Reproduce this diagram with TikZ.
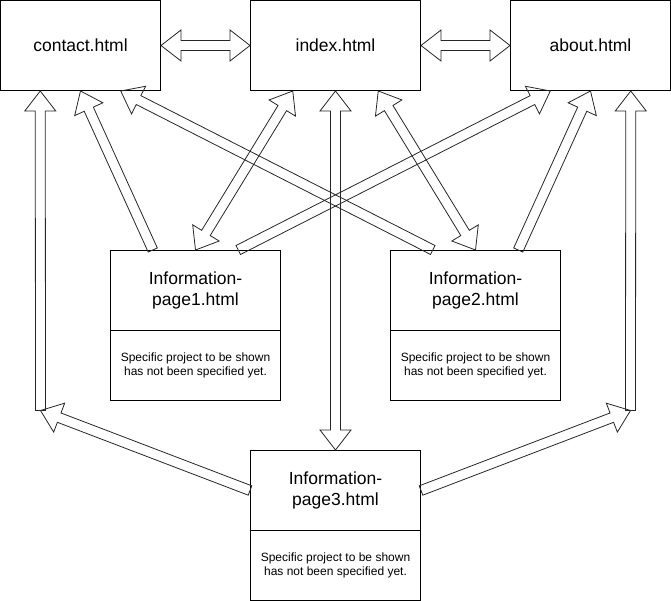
\documentclass[tikz,border=0pt]{standalone}
\usepackage{fontspec}
\setmainfont{Liberation Sans}
\usetikzlibrary{calc}
\newcommand{\flexOne}[2]{%
  \coordinate (fxh) at ($(#2)!20pt!(#1)$);
  \draw[flex] ($(#1)!5pt!90:(#2)$) -- ($(fxh)!5pt!90:(#2)$) -- ($(fxh)!15.5pt!90:(#2)$) -- (#2) -- ($(fxh)!15.5pt!-90:(#2)$) -- ($(fxh)!5pt!-90:(#2)$) -- ($(#1)!5pt!-90:(#2)$) -- cycle;}
\newcommand{\flexTwo}[2]{%
  \coordinate (fxa) at ($(#1)!20pt!(#2)$);
  \coordinate (fxb) at ($(#2)!20pt!(#1)$);
  \draw[flex] (#1) -- ($(fxa)!15.5pt!90:(#2)$) -- ($(fxa)!5pt!90:(#2)$) -- ($(fxb)!5pt!90:(#2)$) -- ($(fxb)!15.5pt!90:(#2)$) -- (#2) -- ($(fxb)!15.5pt!-90:(#2)$) -- ($(fxb)!5pt!-90:(#2)$) -- ($(fxa)!5pt!-90:(#2)$) -- ($(fxa)!15.5pt!-90:(#2)$) -- cycle;}
\begin{document}
\begin{tikzpicture}[x=1pt,y=-1pt,
  page/.style={draw=black, line width=1pt, inner sep=0pt, minimum height=90pt, align=center, font=\fontsize{17.5}{21.5}\selectfont},
  head/.style={draw=black, line width=1pt, inner sep=0pt, minimum width=170pt, minimum height=80pt, align=center, font=\fontsize{17.5}{21.5}\selectfont},
  body/.style={draw=black, line width=1pt, inner sep=0pt, minimum width=170pt, minimum height=70pt, align=center, font=\fontsize{12}{14}\selectfont},
  flex/.style={draw=black!85, line width=0.8pt, line join=miter}]
\useasboundingbox (-0.5,-0.5) rectangle (670.5,600.5);
% top pages
\node[page, minimum width=160pt] (contact) at (80,45) {contact.html};
\node[page, minimum width=170pt] (index) at (335,45) {index.html};
\node[page, minimum width=160pt] (about) at (590,45) {about.html};
% information pages
\node[head] (h1) at (195,290) {Information-\\page1.html};
\node[body] (b1) at (195,365) {Specific project to be shown\\has not been specified yet.};
\node[head] (h2) at (475,290) {Information-\\page2.html};
\node[body] (b2) at (475,365) {Specific project to be shown\\has not been specified yet.};
\node[head] (h3) at (335,490) {Information-\\page3.html};
\node[body] (b3) at (335,565) {Specific project to be shown\\has not been specified yet.};
% anchor points
\coordinate (cQ1) at ($(contact.south west)!0.25!(contact.south east)$);
\coordinate (cQ3) at ($(contact.south west)!0.75!(contact.south east)$);
\coordinate (iQ1) at ($(index.south west)!0.25!(index.south east)$);
\coordinate (iQ3) at ($(index.south west)!0.75!(index.south east)$);
\coordinate (aQ1) at ($(about.south west)!0.25!(about.south east)$);
\coordinate (aQ3) at ($(about.south west)!0.75!(about.south east)$);
\coordinate (p1a) at ($(h1.north west)!0.25!(h1.north east)$);
\coordinate (p1c) at ($(h1.north west)!0.75!(h1.north east)$);
\coordinate (p2a) at ($(h2.north west)!0.25!(h2.north east)$);
\coordinate (p2c) at ($(h2.north west)!0.75!(h2.north east)$);
\coordinate (lc) at (40,410);
\coordinate (rc) at (630,410);
% arrows
\flexTwo{contact.east}{index.west}
\flexTwo{index.east}{about.west}
\flexTwo{index.south}{h3.north}
\flexOne{lc}{cQ1}
\flexOne{rc}{aQ3}
\flexOne{h3.west}{lc}
\flexOne{h3.east}{rc}
\flexOne{p1a}{contact.south}
\flexTwo{h1.north}{iQ1}
\flexOne{p1c}{aQ1}
\flexOne{p2a}{cQ3}
\flexTwo{h2.north}{iQ3}
\flexOne{p2c}{about.south}
\end{tikzpicture}
\end{document}
